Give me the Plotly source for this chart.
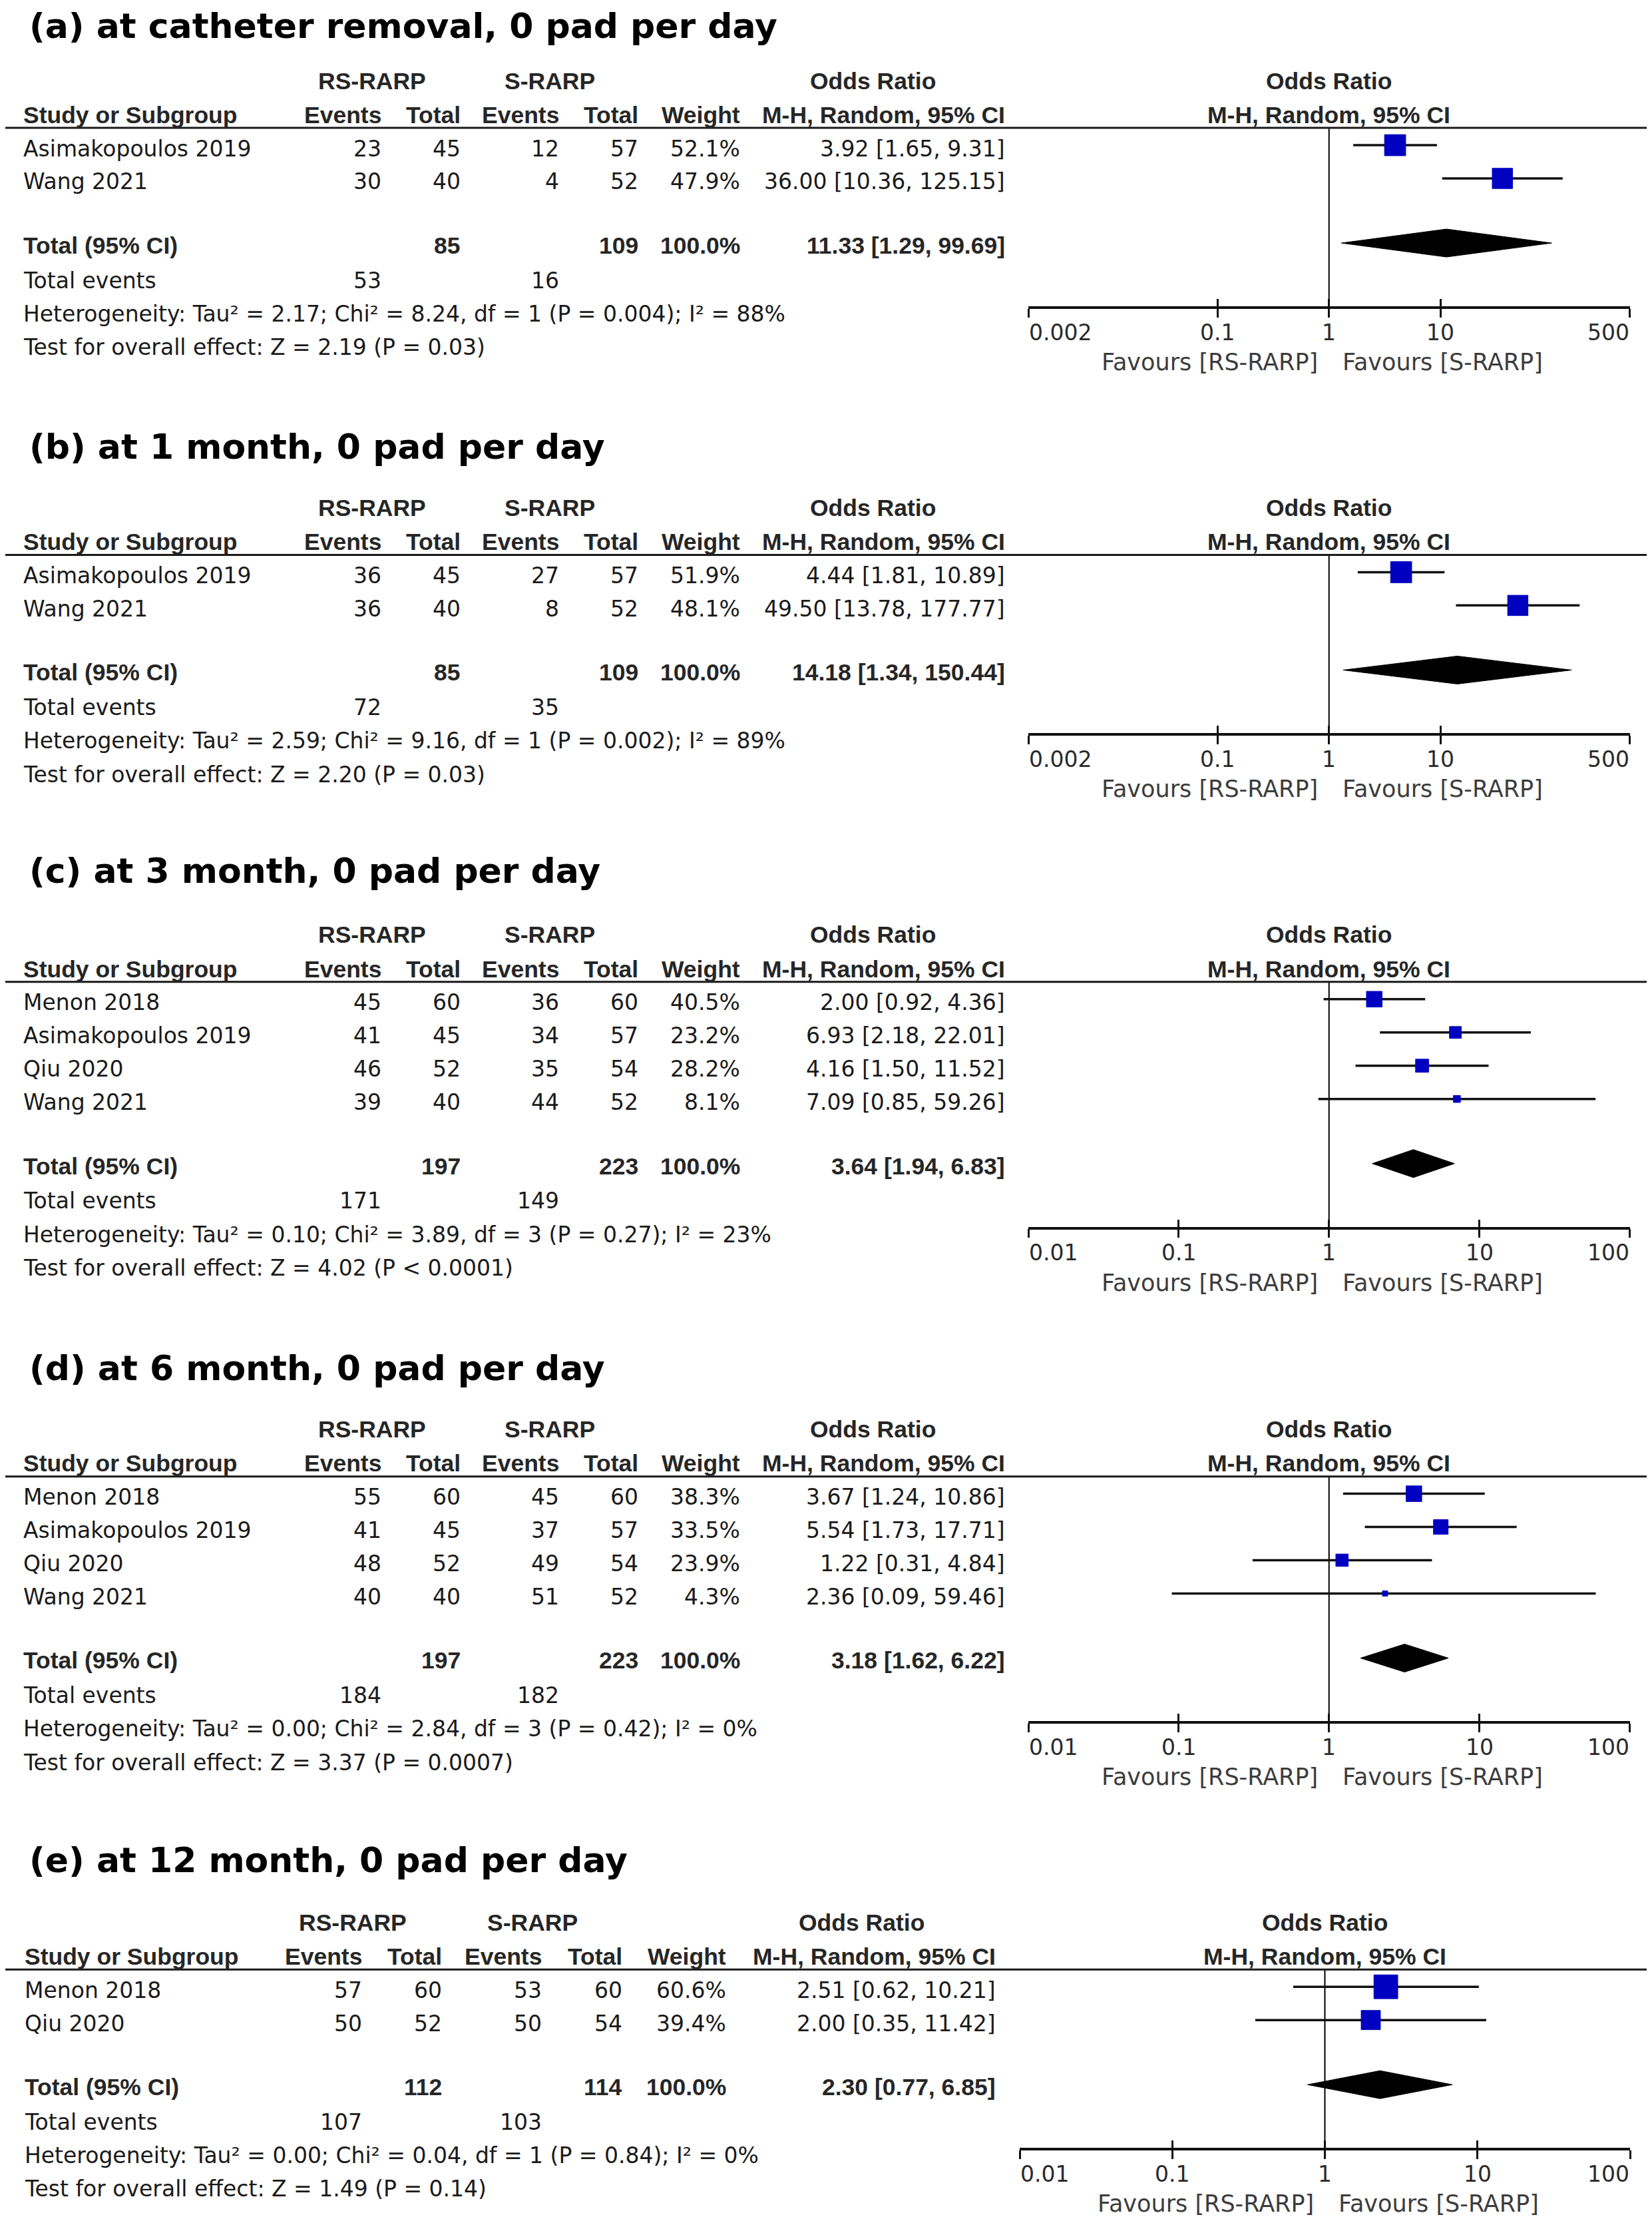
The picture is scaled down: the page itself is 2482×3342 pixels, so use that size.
import math
import plotly.graph_objects as go

W, H = 2482, 3342          # page size
M = 8                      # default body margin of the html page
FW, FH = W - 2 * M, H - 2 * M
S = W / 1166.0             # converts reference-layout units to page pixels (x)
SY = S * 1.0027            # converts reference-layout units to page pixels (y)

# ---------------------------- data ----------------------------
a_studies = ["Asimakopoulos 2019", "Wang 2021"]
a_rs_events = [23, 30]
a_rs_total = [45, 40]
a_s_events = [12, 4]
a_s_total = [57, 52]
a_weight = [52.1, 47.9]
a_or = [3.92, 36.00]
a_lo = [1.65, 10.36]
a_hi = [9.31, 125.15]
a_total_n = [85, 109]
a_total_or = [11.33, 1.29, 99.69]
a_total_events = [53, 16]
a_het = "Heterogeneity: Tau² = 2.17; Chi² = 8.24, df = 1 (P = 0.004); I² = 88%"
a_test = "Test for overall effect: Z = 2.19 (P = 0.03)"
a_ticks = [0.002, 0.1, 1, 10, 500]

b_studies = ["Asimakopoulos 2019", "Wang 2021"]
b_rs_events = [36, 36]
b_rs_total = [45, 40]
b_s_events = [27, 8]
b_s_total = [57, 52]
b_weight = [51.9, 48.1]
b_or = [4.44, 49.50]
b_lo = [1.81, 13.78]
b_hi = [10.89, 177.77]
b_total_n = [85, 109]
b_total_or = [14.18, 1.34, 150.44]
b_total_events = [72, 35]
b_het = "Heterogeneity: Tau² = 2.59; Chi² = 9.16, df = 1 (P = 0.002); I² = 89%"
b_test = "Test for overall effect: Z = 2.20 (P = 0.03)"
b_ticks = [0.002, 0.1, 1, 10, 500]

c_studies = ["Menon 2018", "Asimakopoulos 2019", "Qiu 2020", "Wang 2021"]
c_rs_events = [45, 41, 46, 39]
c_rs_total = [60, 45, 52, 40]
c_s_events = [36, 34, 35, 44]
c_s_total = [60, 57, 54, 52]
c_weight = [40.5, 23.2, 28.2, 8.1]
c_or = [2.00, 6.93, 4.16, 7.09]
c_lo = [0.92, 2.18, 1.50, 0.85]
c_hi = [4.36, 22.01, 11.52, 59.26]
c_total_n = [197, 223]
c_total_or = [3.64, 1.94, 6.83]
c_total_events = [171, 149]
c_het = "Heterogeneity: Tau² = 0.10; Chi² = 3.89, df = 3 (P = 0.27); I² = 23%"
c_test = "Test for overall effect: Z = 4.02 (P &lt; 0.0001)"
c_ticks = [0.01, 0.1, 1, 10, 100]

d_studies = ["Menon 2018", "Asimakopoulos 2019", "Qiu 2020", "Wang 2021"]
d_rs_events = [55, 41, 48, 40]
d_rs_total = [60, 45, 52, 40]
d_s_events = [45, 37, 49, 51]
d_s_total = [60, 57, 54, 52]
d_weight = [38.3, 33.5, 23.9, 4.3]
d_or = [3.67, 5.54, 1.22, 2.36]
d_lo = [1.24, 1.73, 0.31, 0.09]
d_hi = [10.86, 17.71, 4.84, 59.46]
d_total_n = [197, 223]
d_total_or = [3.18, 1.62, 6.22]
d_total_events = [184, 182]
d_het = "Heterogeneity: Tau² = 0.00; Chi² = 2.84, df = 3 (P = 0.42); I² = 0%"
d_test = "Test for overall effect: Z = 3.37 (P = 0.0007)"
d_ticks = [0.01, 0.1, 1, 10, 100]

e_studies = ["Menon 2018", "Qiu 2020"]
e_rs_events = [57, 50]
e_rs_total = [60, 52]
e_s_events = [53, 50]
e_s_total = [60, 54]
e_weight = [60.6, 39.4]
e_or = [2.51, 2.00]
e_lo = [0.62, 0.35]
e_hi = [10.21, 11.42]
e_total_n = [112, 114]
e_total_or = [2.30, 0.77, 6.85]
e_total_events = [107, 103]
e_het = "Heterogeneity: Tau² = 0.00; Chi² = 0.04, df = 1 (P = 0.84); I² = 0%"
e_test = "Test for overall effect: Z = 1.49 (P = 0.14)"
e_ticks = [0.01, 0.1, 1, 10, 100]

titles = ["(a) at catheter removal, 0 pad per day",
          "(b) at 1 month, 0 pad per day",
          "(c) at 3 month, 0 pad per day",
          "(d) at 6 month, 0 pad per day",
          "(e) at 12 month, 0 pad per day"]
group_labels = ["RS-RARP", "S-RARP"]
effect_label = "Odds Ratio"
method_label = "M-H, Random, 95% CI"
col_labels = ["Study or Subgroup", "Events", "Total", "Events", "Total", "Weight"]
favours = ["Favours [RS-RARP]", "Favours [S-RARP]"]

# ---------------------------- layout / style ----------------------------
COLS_STD = dict(name=34, rs_ev=573.7, rs_tot=692.9, s_ev=840.8, s_tot=959.6,
                weight=1112.7, ci=1510.6, g_rs=558.8, g_s=826, g_or=1312)
COLS_E = dict(name=35.6, rs_ev=544.5, rs_tot=664.8, s_ev=815, s_tot=936,
              weight=1092, ci=1497, g_rs=530, g_s=800, g_or=1294)

panels = [
    dict(studies=a_studies, rse=a_rs_events, rst=a_rs_total, se=a_s_events, st=a_s_total,
         w=a_weight, est=a_or, lo=a_lo, hi=a_hi, tn=a_total_n, tor=a_total_or, tev=a_total_events,
         het=a_het, test=a_test, ticks=a_ticks, title=titles[0],
         title_y=18.5, hdr_y=57, cols=COLS_STD, fx=(1545, 2448.5), ksq=4.4),
    dict(studies=b_studies, rse=b_rs_events, rst=b_rs_total, se=b_s_events, st=b_s_total,
         w=b_weight, est=b_or, lo=b_lo, hi=b_hi, tn=b_total_n, tor=b_total_or, tev=b_total_events,
         het=b_het, test=b_test, ticks=b_ticks, title=titles[1],
         title_y=314.5, hdr_y=357.5, cols=COLS_STD, fx=(1545, 2448.5), ksq=4.4),
    dict(studies=c_studies, rse=c_rs_events, rst=c_rs_total, se=c_s_events, st=c_s_total,
         w=c_weight, est=c_or, lo=c_lo, hi=c_hi, tn=c_total_n, tor=c_total_or, tev=c_total_events,
         het=c_het, test=c_test, ticks=c_ticks, title=titles[2],
         title_y=613, hdr_y=658, cols=COLS_STD, fx=(1545, 2448.5), ksq=3.7),
    dict(studies=d_studies, rse=d_rs_events, rst=d_rs_total, se=d_s_events, st=d_s_total,
         w=d_weight, est=d_or, lo=d_lo, hi=d_hi, tn=d_total_n, tor=d_total_or, tev=d_total_events,
         het=d_het, test=d_test, ticks=d_ticks, title=titles[3],
         title_y=963, hdr_y=1006, cols=COLS_STD, fx=(1545, 2448.5), ksq=3.8),
    dict(studies=e_studies, rse=e_rs_events, rst=e_rs_total, se=e_s_events, st=e_s_total,
         w=e_weight, est=e_or, lo=e_lo, hi=e_hi, tn=e_total_n, tor=e_total_or, tev=e_total_events,
         het=e_het, test=e_test, ticks=e_ticks, title=titles[4],
         title_y=1309, hdr_y=1353, cols=COLS_E, fx=(1532, 2449), ksq=4.6),
]

REG = dict(family="DejaVu Sans", size=33, color="#1a1a1a")
TICKF = dict(family="DejaVu Sans", size=33, color="#2a2a2a")
FAVF = dict(family="DejaVu Sans", size=35, color="#3c3c3c")
BOLD = dict(family="Liberation Sans, Arial, sans-serif", size=35.5, color="#262626", weight="bold")
TITLE = dict(family="DejaVu Sans", size=52, color="#000000", weight="bold")
BLUE = "#0000C0"

fig = go.Figure()
ann = []
shapes = []


def px(x):
    """page x pixel -> paper fraction"""
    return (x - M) / FW


def put(x, y, text, font, anchor="left", xref="paper", xshift=0):
    ann.append(dict(x=(px(x) if xref == "paper" else x), y=y, xref=xref, yref="y",
                    text=text, showarrow=False, xanchor=anchor, yanchor="middle",
                    font=font, xshift=xshift, borderpad=0))


def fmt_or(v):
    return f"{v[0]:.2f} [{v[1]:.2f}, {v[2]:.2f}]"


for k, p in enumerate(panels, start=1):
    c = p["cols"]
    xa = "x" if k == 1 else f"x{k}"
    xo = f"x{k + 5}"
    hdr = p["hdr_y"]
    n = len(p["studies"])
    y_title = p["title_y"] * SY
    y_g = hdr * SY
    y_h = (hdr + 24) * SY
    y_rule = (hdr + 33) * SY
    rows = [(hdr + 47.5 + 23.4 * i) * SY for i in range(n)]
    tot = hdr + 47.5 + 23.4 * (n - 1) + 45
    y_tot = tot * SY
    y_tev = (tot + 24.5) * SY
    y_het = (tot + 48) * SY
    y_test = (tot + 71.5) * SY
    y_axis = (tot + 43.5) * SY
    y_tick = (tot + 43.5 + 17.5) * SY
    y_fav = (tot + 43.5 + 38.5) * SY

    # title and headers
    put(43, y_title, p["title"], TITLE)
    put(c["g_rs"], y_g, group_labels[0], BOLD, "center")
    put(c["g_s"], y_g, group_labels[1], BOLD, "center")
    put(c["g_or"], y_g, effect_label, BOLD, "center")
    put(c["name"], y_h, col_labels[0], BOLD)
    put(c["rs_ev"], y_h, col_labels[1], BOLD, "right")
    put(c["rs_tot"], y_h, col_labels[2], BOLD, "right")
    put(c["s_ev"], y_h, col_labels[3], BOLD, "right")
    put(c["s_tot"], y_h, col_labels[4], BOLD, "right")
    put(c["weight"], y_h, col_labels[5], BOLD, "right")
    put(c["ci"], y_h, method_label, BOLD, "right")
    put(0, y_g, effect_label, BOLD, "center", xref=xa)
    put(0, y_h, method_label, BOLD, "center", xref=xa)
    shapes.append(dict(type="line", xref="paper", yref="y", x0=px(5), x1=1.0,
                       y0=y_rule, y1=y_rule, line=dict(color="#1a1a1a", width=3)))

    # study rows
    for i in range(n):
        y = rows[i]
        put(c["name"], y, p["studies"][i], REG)
        put(c["rs_ev"], y, str(p["rse"][i]), REG, "right")
        put(c["rs_tot"], y, str(p["rst"][i]), REG, "right")
        put(c["s_ev"], y, str(p["se"][i]), REG, "right")
        put(c["s_tot"], y, str(p["st"][i]), REG, "right")
        put(c["weight"], y, f"{p['w'][i]:.1f}%", REG, "right")
        put(c["ci"], y, fmt_or([p["est"][i], p["lo"][i], p["hi"][i]]), REG, "right")

    # totals
    put(c["name"], y_tot, "Total (95% CI)", BOLD)
    put(c["rs_tot"], y_tot, str(p["tn"][0]), BOLD, "right")
    put(c["s_tot"], y_tot, str(p["tn"][1]), BOLD, "right")
    put(c["weight"], y_tot, f"{sum(p['w']):.1f}%", BOLD, "right")
    put(c["ci"], y_tot, fmt_or(p["tor"]), BOLD, "right")
    put(c["name"], y_tev, "Total events", REG)
    put(c["rs_ev"], y_tev, str(p["tev"][0]), REG, "right")
    put(c["s_ev"], y_tev, str(p["tev"][1]), REG, "right")
    put(c["name"], y_het, p["het"], REG)
    put(c["name"], y_test, p["test"], REG)

    # forest plot marks
    fig.add_trace(go.Scatter(x=[1, 1], y=[y_rule, y_axis], mode="lines",
                             line=dict(color="#000000", width=2), xaxis=xa, yaxis="y",
                             hoverinfo="skip", showlegend=False))
    xs, ys = [], []
    for i in range(n):
        xs += [p["lo"][i], p["hi"][i], None]
        ys += [rows[i] - 5, rows[i] - 5, None]
    fig.add_trace(go.Scatter(x=xs, y=ys, mode="lines", line=dict(color="#111111", width=3.5),
                             xaxis=xa, yaxis="y", hoverinfo="skip", showlegend=False))
    fig.add_trace(go.Scatter(x=p["est"], y=[r - 5 for r in rows], mode="markers",
                             marker=dict(symbol="square", color=BLUE, opacity=1,
                                         size=[p["ksq"] * math.sqrt(w) for w in p["w"]],
                                         line=dict(width=1, color=BLUE)),
                             xaxis=xa, yaxis="y", hoverinfo="skip", showlegend=False))
    dh = 21
    t_est, t_lo, t_hi = p["tor"]
    yd = y_tot - 4
    fig.add_trace(go.Scatter(x=[t_lo, t_est, t_hi, t_est, t_lo],
                             y=[yd, yd - dh, yd, yd + dh, yd],
                             mode="lines", fill="toself", fillcolor="#000000",
                             line=dict(color="#000000", width=1),
                             xaxis=xa, yaxis="y", hoverinfo="skip", showlegend=False))
    # invisible trace for the overlay axis that carries upward ticks
    fig.add_trace(go.Scatter(x=[p["ticks"][0], p["ticks"][-1]], y=[y_axis, y_axis],
                             mode="markers", marker=dict(opacity=0), xaxis=xo, yaxis="y",
                             hoverinfo="skip", showlegend=False))

    rng = [math.log10(p["ticks"][0]), math.log10(p["ticks"][-1])]
    dom = [px(p["fx"][0]), px(p["fx"][1])]
    pos = 1 - (y_axis - M) / FH
    common = dict(type="log", range=rng, domain=dom, anchor="free", position=pos,
                  tickmode="array", tickvals=p["ticks"], showticklabels=False,
                  showgrid=False, zeroline=False, fixedrange=True,
                  tickcolor="#111111", tickwidth=3, ticklen=13)
    fig.layout["xaxis" if k == 1 else f"xaxis{k}"] = dict(
        common, showline=True, linecolor="#111111", linewidth=3.5, ticks="outside")
    fig.layout[f"xaxis{k + 5}"] = dict(common, overlaying=xa, showline=False, ticks="inside")

    # tick labels
    for j, t in enumerate(p["ticks"]):
        anchor = "left" if j == 0 else ("right" if j == len(p["ticks"]) - 1 else "center")
        put(math.log10(t), y_tick, f"{t:g}", TICKF, anchor, xref=xa)
    put(0, y_fav, favours[0], FAVF, "right", xref=xa, xshift=-16)
    put(0, y_fav, favours[1], FAVF, "left", xref=xa, xshift=19)

fig.update_layout(
    width=FW, height=FH,
    margin=dict(l=0, r=0, t=0, b=0),
    paper_bgcolor="white", plot_bgcolor="rgba(0,0,0,0)",
    yaxis=dict(range=[M + FH, M], domain=[0, 1], visible=False, fixedrange=True),
    annotations=ann, shapes=shapes,
    showlegend=False, hovermode=False,
)

fig.write_html("out.html")
